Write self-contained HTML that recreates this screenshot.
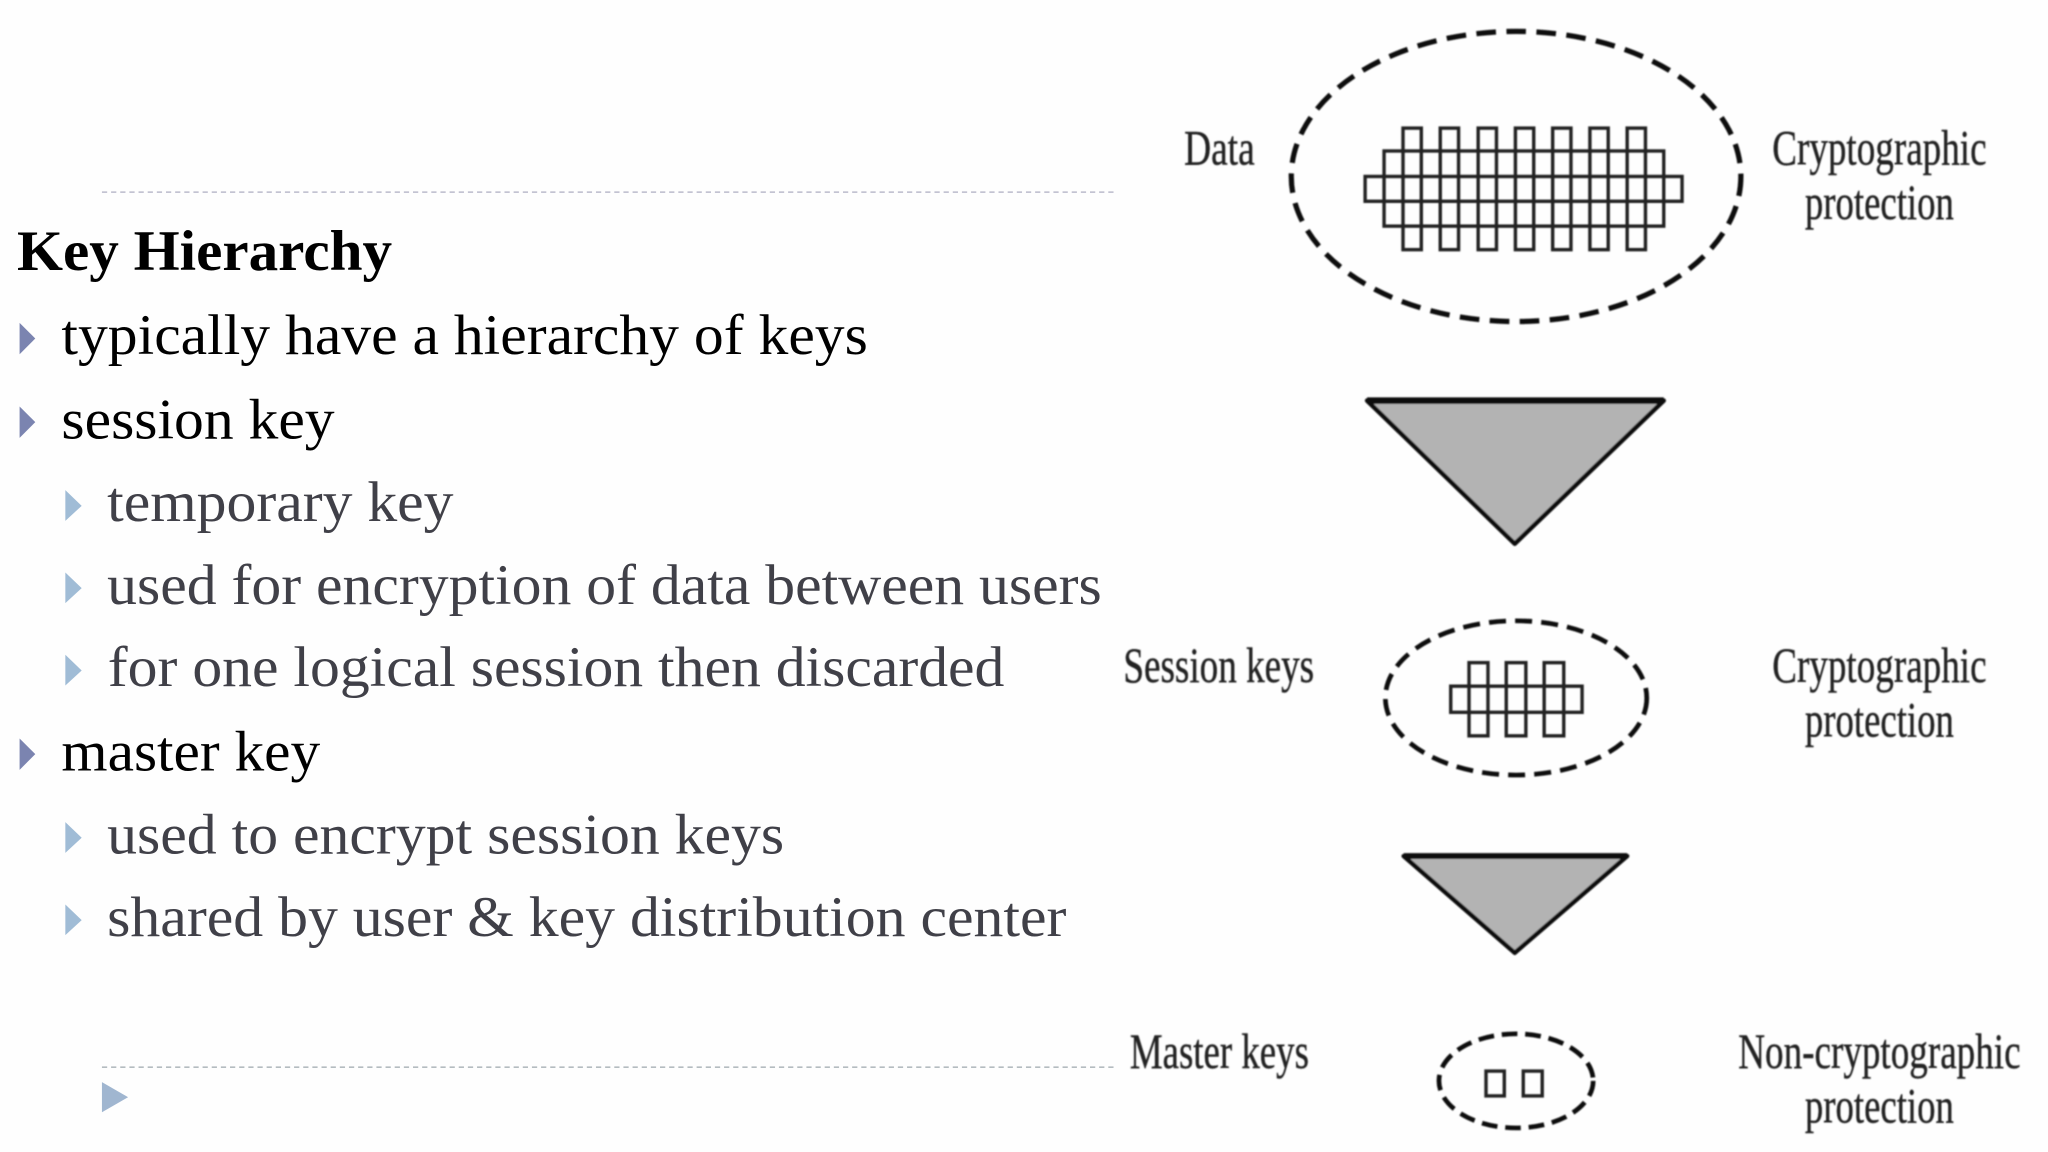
<!DOCTYPE html>
<html><head><meta charset="utf-8"><style>
html,body{margin:0;padding:0;background:#fff;width:2048px;height:1152px;overflow:hidden}
svg{display:block}
text{font-family:"Liberation Serif",serif}
.m{font-size:44px;fill:#000}
.s{font-size:44px;fill:#404048}
.d{font-size:38px;fill:#222;stroke:#222;stroke-width:.3}
.c{fill:none;stroke:#111}
</style></head><body>
<svg width="2048" height="1152" viewBox="0 0 1567 881.4" xmlns="http://www.w3.org/2000/svg">
<defs><filter id="b" x="-5%" y="-5%" width="110%" height="110%"><feGaussianBlur stdDeviation="0.55"/></filter></defs>
<rect width="1567" height="881.4" fill="#fefefe"/>
<line x1="78" y1="147" x2="855" y2="147" stroke="#bbc" stroke-width="1.2" stroke-dasharray="4 3"/>
<line x1="78" y1="816.5" x2="855" y2="816.5" stroke="#b4bcc0" stroke-width="1.2" stroke-dasharray="4 3"/>
<polygon points="78,828 98,839.5 78,851" fill="#a0b6d0"/>
<text x="13" y="206.5" class="m" font-weight="bold" textLength="287" lengthAdjust="spacingAndGlyphs">Key Hierarchy</text>
<polygon points="15,247 27,259 15,271" fill="#7b84b0"/>
<text x="47" y="271" class="m" textLength="617" lengthAdjust="spacingAndGlyphs">typically have a hierarchy of keys</text>
<polygon points="15,311 27,323 15,335" fill="#7b84b0"/>
<text x="47" y="335.5" class="m" textLength="209" lengthAdjust="spacingAndGlyphs">session key</text>
<polygon points="50,375 62.5,387 50,398.5" fill="#a0bcd6"/>
<text x="82" y="398.7" class="s" textLength="265" lengthAdjust="spacingAndGlyphs">temporary key</text>
<polygon points="50,438 62.5,450 50,461.5" fill="#a0bcd6"/>
<text x="82" y="462" class="s" textLength="761" lengthAdjust="spacingAndGlyphs">used for encryption of data between users</text>
<polygon points="50,501 62.5,513 50,524.5" fill="#a0bcd6"/>
<text x="82.5" y="525" class="s" textLength="686" lengthAdjust="spacingAndGlyphs">for one logical session then discarded</text>
<polygon points="15,565 27,577 15,589" fill="#7b84b0"/>
<text x="47" y="589.5" class="m" textLength="198" lengthAdjust="spacingAndGlyphs">master key</text>
<polygon points="50,629 62.5,641 50,652.5" fill="#a0bcd6"/>
<text x="82" y="653" class="s" textLength="518" lengthAdjust="spacingAndGlyphs">used to encrypt session keys</text>
<polygon points="50,692 62.5,704 50,715.5" fill="#a0bcd6"/>
<text x="82" y="716" class="s" textLength="734" lengthAdjust="spacingAndGlyphs">shared by user &amp; key distribution center</text>

<g filter="url(#b)">
<text x="906" y="126" class="d" textLength="54" lengthAdjust="spacingAndGlyphs">Data</text>
<text x="1356" y="126" class="d" textLength="164" lengthAdjust="spacingAndGlyphs">Cryptographic</text>
<text x="1381" y="167.5" class="d" textLength="114" lengthAdjust="spacingAndGlyphs">protection</text>
<text x="859.5" y="522" class="d" textLength="146" lengthAdjust="spacingAndGlyphs">Session keys</text>
<text x="1356" y="522" class="d" textLength="164" lengthAdjust="spacingAndGlyphs">Cryptographic</text>
<text x="1381" y="563.5" class="d" textLength="114" lengthAdjust="spacingAndGlyphs">protection</text>
<text x="864.5" y="817" class="d" textLength="137" lengthAdjust="spacingAndGlyphs">Master keys</text>
<text x="1330" y="817" class="d" textLength="216" lengthAdjust="spacingAndGlyphs">Non-cryptographic</text>
<text x="1381" y="859" class="d" textLength="114" lengthAdjust="spacingAndGlyphs">protection</text>

<ellipse cx="1160" cy="135" rx="172" ry="111" class="c" stroke-width="4" stroke-dasharray="15 8"/>
<ellipse cx="1160" cy="534" rx="100" ry="59" class="c" stroke-width="3.6" stroke-dasharray="13 7"/>
<ellipse cx="1160" cy="827" rx="59" ry="36" class="c" stroke-width="3.6" stroke-dasharray="12 6"/>

<g fill="none" stroke="#222" stroke-width="2.6">
<rect x="1073.5" y="98" width="14" height="93"/><rect x="1102" y="98" width="14" height="93"/><rect x="1131" y="98" width="14" height="93"/><rect x="1159.5" y="98" width="14" height="93"/><rect x="1188" y="98" width="14" height="93"/><rect x="1216.5" y="98" width="14" height="93"/><rect x="1245" y="98" width="14" height="93"/>
<rect x="1059" y="115.5" width="214" height="57.5"/>
<rect x="1044.5" y="135" width="242.5" height="19"/>
<rect x="1124" y="507" width="14.5" height="56"/><rect x="1152.5" y="507" width="15" height="56"/><rect x="1181.5" y="507" width="15" height="56"/>
<rect x="1110" y="525" width="100.5" height="20"/>
<rect x="1137" y="819.5" width="14" height="19"/><rect x="1165.5" y="819.5" width="14.5" height="19"/>
</g>

<polygon points="1046,306.5 1273,306.5 1159,416" fill="#b3b3b3" stroke="#111" stroke-width="3.4" stroke-linejoin="round"/>
<line x1="1046" y1="306.5" x2="1273" y2="306.5" stroke="#111" stroke-width="5"/>
<polygon points="1074,655 1245,655 1159,729" fill="#b3b3b3" stroke="#111" stroke-width="3.4" stroke-linejoin="round"/>
<line x1="1074" y1="655" x2="1245" y2="655" stroke="#111" stroke-width="4.5"/>
</g>
</svg>
</body></html>
